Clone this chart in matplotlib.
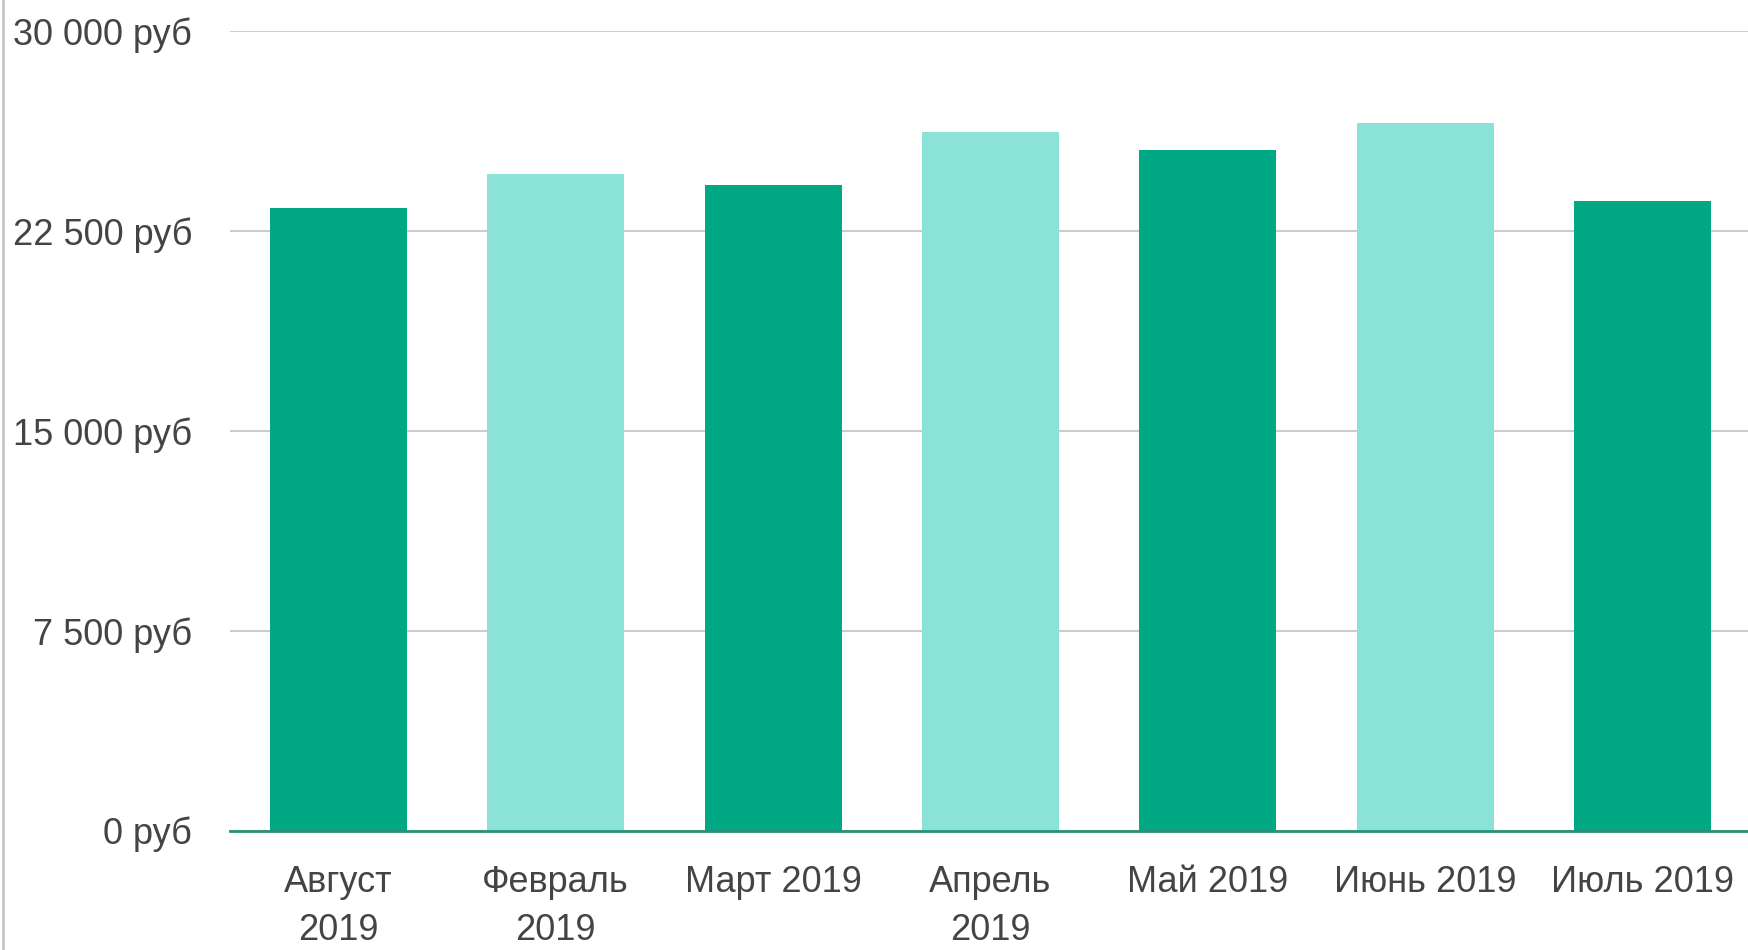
import matplotlib.pyplot as plt
from matplotlib.lines import Line2D
from matplotlib.ticker import FuncFormatter

# Data
months = ["Август\n2019", "Февраль\n2019", "Март 2019", "Апрель\n2019",
          "Май 2019", "Июнь 2019", "Июль 2019"]
salaries = [23350, 24640, 24220, 26200, 25520, 26530, 23620]
y_ticks = [0, 7500, 15000, 22500, 30000]

dark_green = "#00a884"
light_green = "#8be3d8"
bar_colors = [dark_green if i % 2 == 0 else light_green for i in range(len(months))]

plt.rcParams['font.family'] = ['Liberation Sans', 'DejaVu Sans']

fig = plt.figure(figsize=(17.48, 9.5), dpi=100)
ax = fig.add_axes([0.1314, 0.1256, 0.8686, 0.8418])

x = range(len(months))
ax.bar(x, salaries, width=0.63, color=bar_colors, zorder=2)

# Axes styling
ax.set_xlim(-0.5, 6.485)
ax.set_ylim(0, 30000)
ax.set_yticks(y_ticks)
ax.yaxis.set_major_formatter(FuncFormatter(
    lambda v, pos: f"{int(v):,}".replace(",", " ") + " руб"))
ax.set_xticks(list(x))
ax.set_xticklabels(months, linespacing=1.47)

ax.grid(axis='y', color='#cccccc', linewidth=1.5, zorder=0)
for side in ['top', 'right', 'left']:
    ax.spines[side].set_visible(False)
ax.spines['bottom'].set_color('#2a9079')
ax.spines['bottom'].set_linewidth(2)
ax.spines['bottom'].set_zorder(3)

ax.tick_params(axis='y', length=0, pad=27, labelsize=26, labelcolor='#444444')
ax.tick_params(axis='x', length=0, pad=25, labelsize=26, labelcolor='#444444')

# thin frame line on the left edge of the image
fig.add_artist(Line2D([0.0015, 0.0015], [0, 1], color='#c8c8c8', linewidth=2,
                      transform=fig.transFigure))

fig.savefig("out.png", dpi=100, facecolor='white')
